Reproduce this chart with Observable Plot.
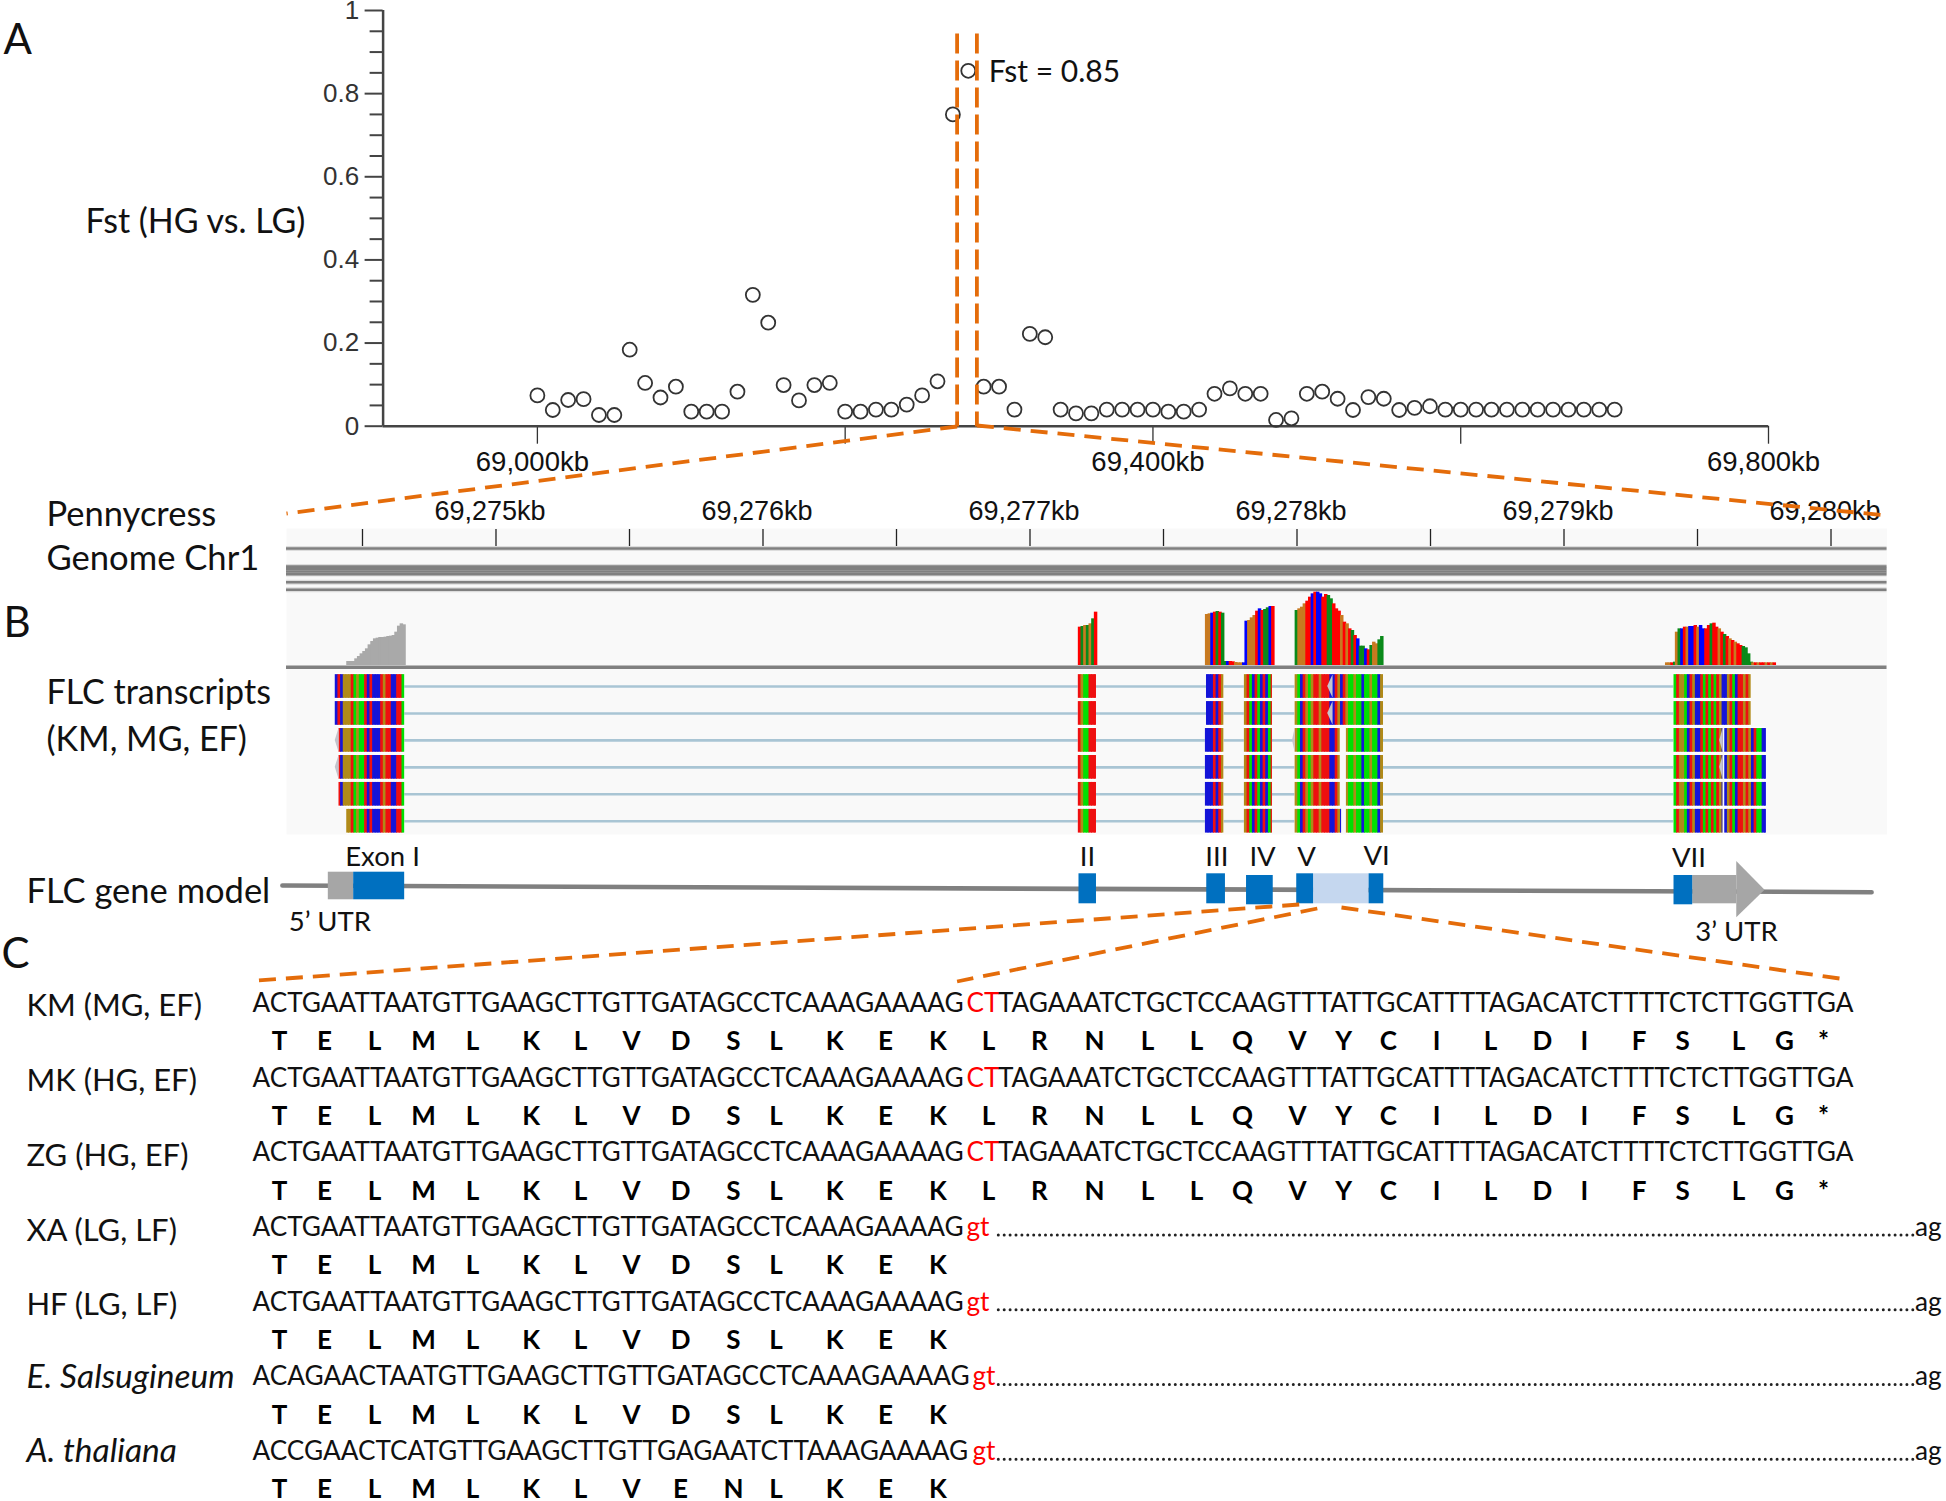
<!DOCTYPE html>
<html><head><meta charset="utf-8">
<script src="https://cdn.jsdelivr.net/npm/d3@7"></script>
<script src="https://cdn.jsdelivr.net/npm/@observablehq/plot@0.6"></script>
<style>html,body{margin:0;background:#fff}#fig{position:relative;width:1946px;height:1501px;overflow:hidden}</style>
</head><body><div id="fig"></div><script>
// ---------- Panel A ----------
const fstValues=[.074,.039,.063,.065,.027,.027,.184,.104,.069,.095,.035,.035,.035,.083,.316,.249,.099,.062,.099,.104,.035,.035,.04,.04,.052,.074,.108,.75,.855,
.095,.095,.04,.222,.214,.04,.031,.031,.04,.04,.04,.04,.035,.035,.04,.078,.091,.078,.078,.015,.019,.078,.083,.066,.039,.07,.066,.039,.044,.048,
.04,.04,.04,.04,.04,.04,.04,.04,.04,.04,.04,.04];
const fstWindowStart=69000, fstWindowStep=10;
const fstMajorY=[0,.2,.4,.6,.8,1];
const fstMinorY=[.05,.1,.15,.25,.3,.35,.45,.5,.55,.65,.7,.75,.85,.9,.95];
const fstTicksX=[69000,69200,69400,69600,69800];
const fstLabelledX=[69000,69400,69800];
// ---------- Panel B ----------
const rulerTicks=[69274.5,69275,69275.5,69276,69276.5,69277,69277.5,69278,69278.5,69279,69279.5,69280];
const rulerLabels=[69275,69276,69277,69278,69279,69280];
const exonStarts=[69274.398,69277.181,69277.657,69277.803,69277.993,69279.412];
const exonBases=["BRBOOORGOGGRBRBBBRORRBBRRG","ROGGRRR","BBBRBRO","ORGBRGBRBGR","OGBROGORRORRRBBROBROGGOGGBGGOGGBO","GROOGBROBBRGRGRGROBBORGBRROROBRGGBB"];
const blocksFull=[[69274.398,69274.658],[69277.181,69277.249],[69277.661,69277.726],[69277.803,69277.908],[69277.993,69278.324],[69279.412,69279.701]];
const blocksSplit=[[69274.412,69274.658],[69277.181,69277.249],[69277.657,69277.726],[69277.803,69277.908],[69277.993,69278.162],[69278.185,69278.324],[69279.412,69279.595],[69279.601,69279.758]];
const blocksLast=[[69274.441,69274.658],[69277.181,69277.249],[69277.657,69277.726],[69277.803,69277.908],[69277.993,69278.167],[69278.185,69278.324],[69279.412,69279.595],[69279.601,69279.758]];
const readRows=[blocksFull,blocksFull,blocksSplit,blocksSplit,blocksSplit,blocksLast];
const softClips=[{r:0,tip:69278.115,base:69278.135},{r:1,tip:69278.115,base:69278.135},{r:2,tip:69274.398,base:69274.412},{r:3,tip:69274.398,base:69274.412},{r:2,tip:69277.983,base:69277.993},{r:2,tip:69279.583,base:69279.596},{r:3,tip:69279.583,base:69279.596}];
const genomeLines=[-5.12,-4.45,-4.36,-4.27,-4.17,-3.87,-3.59];
const covTracks=[
 {start:69274.441,gray:true,bases:"",depth:[12,12,12,20,27,35,42,50,62,72,80,82,84,84,85,87,88,90,100,118,125,122]},
 {start:69277.181,bases:"RGOGOGR",depth:[115,117,120,120,125,140,160]},
 {start:69277.657,bases:"OOBRGRG",depth:[153,155,157,160,162,160,157]},
 {start:69277.726,bases:"GBRROOOB",depth:[12,12,12,11,9,8,8,8]},
 {start:69277.805,bases:"BOOORBRGGBR",depth:[133,135,143,150,163,170,165,168,173,177,177]},
 {start:69277.993,bases:"GOOORRBRBBRRGGRRRORORGRBGGBRGOOGG",depth:[165,170,175,185,193,205,215,220,220,215,205,213,210,200,185,170,163,150,130,125,110,105,90,80,58,58,50,47,60,70,65,77,87]},
 {start:69279.38,bases:"OORGRO",depth:[8,8,8,10,12,9]},
 {start:69279.417,bases:"OGBROBBROBBRRGRRORGRORORRGGGG",depth:[100,110,110,115,115,117,117,120,115,120,110,110,120,125,127,115,110,100,93,87,80,75,70,65,60,57,53,35,10]},
 {start:69279.703,bases:"ORORROROR",depth:[8,8,8,8,8,8,8,8,8]}
];
const geneBackboneX=[69274.2,69280.152], geneBackboneY=[0,.447];
const geneBoxes=[
 {s:69274.372,e:69274.467,t:-.887,b:.953,c:"#a6a6a6"},
 {s:69274.467,e:69274.658,t:-.887,b:.953,c:"#0070c0"},
 {s:69277.1835,e:69277.249,t:-.78,b:1.22,c:"#0070c0"},
 {s:69277.662,e:69277.732,t:-.78,b:1.22,c:"#0070c0"},
 {s:69277.811,e:69277.911,t:-.667,b:1.287,c:"#0070c0"},
 {s:69278.062,e:69278.27,t:-.78,b:1.22,c:"#c5d7ef"},
 {s:69277.999,e:69278.062,t:-.78,b:1.22,c:"#0070c0"},
 {s:69278.27,e:69278.325,t:-.78,b:1.22,c:"#0070c0"},
 {s:69279.482,e:69279.647,t:-.667,b:1.22,c:"#a6a6a6"},
 {s:69279.412,e:69279.482,t:-.667,b:1.287,c:"#0070c0"}
];
const arrowHead=[{x:69279.647,t:-1.6,b:2.153},{x:69279.753,t:.313,b:.313}];
const geneLabels=[
 {x:69274.575,y:-1.887,t:"Exon I"},{x:69277.215,y:-1.887,t:"II"},{x:69277.70,y:-1.887,t:"III"},
 {x:69277.871,y:-1.887,t:"IV"},{x:69278.036,y:-1.887,t:"V"},{x:69278.298,y:-1.93,t:"VI"},
 {x:69279.468,y:-1.82,t:"VII"},{x:69274.378,y:2.447,t:"5’ UTR"},{x:69279.646,y:3.113,t:"3’ UTR"}
];
// ---------- Panel C ----------
const seqNames=["KM (MG, EF)","MK (HG, EF)","ZG (HG, EF)","XA (LG, LF)","HF (LG, LF)","E. Salsugineum","A. thaliana"];
const seqPrefix=["ACTGAATTAATGTTGAAGCTTGTTGATAGCCTCAAAGAAAAG","ACTGAATTAATGTTGAAGCTTGTTGATAGCCTCAAAGAAAAG","ACTGAATTAATGTTGAAGCTTGTTGATAGCCTCAAAGAAAAG","ACTGAATTAATGTTGAAGCTTGTTGATAGCCTCAAAGAAAAG","ACTGAATTAATGTTGAAGCTTGTTGATAGCCTCAAAGAAAAG","ACAGAACTAATGTTGAAGCTTGTTGATAGCCTCAAAGAAAAG","ACCGAACTCATGTTGAAGCTTGTTGAGAATCTTAAAGAAAAG"];
const seqSplice=["CT","CT","CT","gt","gt","gt","gt"];
const seqSpliceCol=[42,42,42,42,42,42.35,42.35];
const seqTail="TAGAAATCTGCTCCAAGTTTATTGCATTTTAGACATCTTTTCTCTTGGTTGA";
const aminoLong="TELMLKLVDSLKEKLRNLLQVYCILDIFSLG*";
const aminoShort="TELMLKLVDSLKEK", aminoThaliana="TELMLKLVENLKEK";
const aminoCols=[1.59,4.24,7.18,10.06,12.94,16.39,19.29,22.29,25.18,28.29,30.79,34.24,37.24,40.32,43.29,46.29,49.53,52.65,55.53,58.24,61.47,64.18,66.82,69.65,72.82,75.88,78.35,81.56,84.12,87.41,90.12,92.41];
const aminoRows=[aminoLong,aminoLong,aminoLong,aminoShort,aminoShort,aminoShort,aminoThaliana];
// ---------- figure annotations ----------
const sideLabels=[
 {x:3,y:40,t:"A",s:42},{x:3,y:623,t:"B",s:42},{x:1,y:954,t:"C",s:42},
 {x:85,y:222,t:"Fst (HG vs. LG)",s:34},{x:46,y:514,t:"Pennycress",s:34.5},{x:46,y:558,t:"Genome Chr1",s:34.6},
 {x:46,y:693,t:"FLC transcripts",s:34},{x:46,y:740,t:"(KM, MG, EF)",s:34},{x:26,y:891,t:"FLC gene model",s:34.5}
];
const zoomVertical=[{a:[956.6,33],b:[956.6,426]},{a:[976.4,33],b:[976.4,426]}];
const zoomDiagonal=[
 {a:[956.6,426],b:[286,513]},{a:[976.4,425],b:[1886,515]},
 {a:[1298.7,904],b:[258,980]},{a:[1316.8,908],b:[956.6,981]},{a:[1341,907],b:[1839,978]}
];

const W=1946;
const SANS="Lato", ARIAL="Liberation Sans";
const fig=document.getElementById("fig");
function add(top,opts){
  const svg=Plot.plot({width:W,style:{position:"absolute",left:"0",top:top+"px",background:"transparent",overflow:"visible"},...opts});
  fig.appendChild(svg);return svg;
}
const baseColors={R:"#ee1010",G:"#00e000",B:"#1414d8",O:"#b08a18"};
const covColors={R:"#ff0000",G:"#0a8a1a",B:"#0000ff",O:"#c87a20"};
const kbFormat=d=>d3.format(",")(d)+"kb";

// Panel A
const fst=fstValues.map((v,i)=>({kb:fstWindowStart+i*fstWindowStep,v}));
const xStartA=69000-(537-382.6)/1.54;
add(0,{height:500,marginLeft:382.6,marginRight:178,marginTop:10,marginBottom:74.3,
 x:{domain:[xStartA,69800]},y:{domain:[0,1]},
 marks:[
  Plot.axisY({ticks:fstMajorY,tickSize:18,tickPadding:6,tickFormat:d=>String(d),fontSize:26,fontFamily:ARIAL,stroke:"#444",strokeWidth:2,color:"#333",label:null}),
  Plot.axisY({ticks:fstMinorY,tickSize:13,tickFormat:()=>"",stroke:"#444",strokeWidth:2,label:null}),
  Plot.axisX({ticks:fstTicksX,tickSize:18,tickFormat:()=>"",stroke:"#333",strokeWidth:1.3,label:null}),
  Plot.axisX({ticks:fstLabelledX,tickSize:0,tickPadding:25,dx:-5,tickFormat:kbFormat,fontSize:27.5,fontFamily:ARIAL,color:"#111",label:null}),
  Plot.ruleX([xStartA],{stroke:"#444",strokeWidth:2.5}),
  Plot.ruleY([0],{stroke:"#444",strokeWidth:2.5}),
  Plot.dot(fst,{x:"kb",y:"v",r:7,fill:"none",stroke:"#333",strokeWidth:1.8}),
  Plot.text(["Fst = 0.85"],{x:69293.3,y:.8516,text:d=>d,textAnchor:"start",fontSize:30,fontFamily:SANS,fill:"#111"})
 ]});

const genomicX={domain:[69274.2154,69280.2097],axis:null};
const mx={marginLeft:286,marginRight:59.5};

// Tracks background, genome lines, reads
const blocks=readRows.flatMap((row,r)=>row.map(([s,e])=>({r,s,e})));
const junctions=readRows.flatMap((row,r)=>row.slice(1).map((b,i)=>({r,s:row[i][1],e:b[0]})).filter(d=>d.e-d.s>.05));
const stripes=blocks.flatMap(b=>{
  const ex=d3.bisectRight(exonStarts,b.s+1e-6)-1, seq=exonBases[ex], out=[];
  for(let i=0;i<seq.length;i++){
    const s=exonStarts[ex]+i*.01, e=s+.01;
    if(e<=b.s+.002||s>=b.e-.002) continue;
    out.push({r:b.r,s:Math.max(s,b.s),e:Math.min(e+.003,b.e),c:baseColors[seq[i]]});
  }
  return out;
});
const clipArea=softClips.flatMap((c,id)=>[{id,x:c.tip,t:c.r,b:c.r},{id,x:c.base,t:c.r-.44,b:c.r+.44}]);
add(528,{height:306,...mx,marginTop:0,marginBottom:0,x:genomicX,y:{domain:[5.492,-5.863],axis:null},
 marks:[
  Plot.frame({fill:"#f9f9f9",stroke:null}),
  Plot.ruleY(genomeLines,{stroke:"#ddd",strokeWidth:5}),
  Plot.ruleY(genomeLines,{stroke:"#808080",strokeWidth:2.6}),
  Plot.ruleY(junctions,{y:"r",x1:"s",x2:"e",stroke:"#a9c5d4",strokeWidth:2.6}),
  Plot.rect(blocks,{x1:"s",x2:"e",y1:d=>d.r-.49,y2:d=>d.r+.49,fill:"#fff"}),
  Plot.rect(stripes,{x1:"s",x2:"e",y1:d=>d.r-.44,y2:d=>d.r+.44,fill:"c"}),
  Plot.areaY(clipArea,{x:"x",y1:"t",y2:"b",z:"id",fill:"#c4c4cc"})
 ]});

// Ruler
add(485,{height:60,...mx,marginTop:60,marginBottom:0,x:genomicX,y:{domain:[0,1],axis:null},
 marks:[
  Plot.axisX({anchor:"top",ticks:rulerTicks,tickSize:17,tickFormat:()=>"",stroke:"#222",strokeWidth:1.3,label:null}),
  Plot.axisX({anchor:"top",ticks:rulerLabels,tickSize:0,tickPadding:26,dx:-6,tickFormat:kbFormat,fontSize:27,fontFamily:ARIAL,color:"#111",label:null})
 ]});

// Coverage
const cov=covTracks.flatMap(t=>t.depth.map((d,i)=>({s:t.start+i*.01,e:t.start+(i+1)*.01+.003,d,c:t.gray?"#a9a9a9":covColors[t.bases[i]]})));
add(585,{height:80,...mx,marginTop:0,marginBottom:0,x:genomicX,y:{domain:[0,240],axis:null},
 marks:[
  Plot.rectY(cov,{x1:"s",x2:"e",y1:0,y2:"d",fill:"c"}),
  Plot.ruleY([0],{dy:1.7,stroke:"#808080",strokeWidth:3.4})
 ]});

// Gene model
add(840,{height:100,...mx,marginTop:0,marginBottom:0,x:genomicX,y:{domain:[3.667,-3],axis:null},
 marks:[
  Plot.line(geneBackboneX.map((x,i)=>({x,y:geneBackboneY[i]})),{x:"x",y:"y",stroke:"#808080",strokeWidth:4.6}),
  Plot.rect(geneBoxes,{x1:"s",x2:"e",y1:"t",y2:"b",fill:"c"}),
  Plot.areaY(arrowHead,{x:"x",y1:"t",y2:"b",fill:"#a6a6a6"}),
  Plot.text(geneLabels,{x:"x",y:"y",text:"t",fontSize:27.5,fontFamily:SANS,fill:"#111"})
 ]});

// Panel C
const rowsIdx=d3.range(seqNames.length);
const spliced=[3,4,5,6];
const amino=aminoRows.flatMap((s,r)=>Array.from(s,(ch,i)=>({r,ch,col:aminoCols[i]})));
const seqAttr={fontSize:26.2,fontFamily:SANS,textAnchor:"start"};
const nameAttr={x:-13.3,y:d=>d,dy:3,text:d=>seqNames[d],fontSize:31,fontFamily:SANS,textAnchor:"start",fill:"#111"};
add(960,{height:541,marginLeft:0,marginRight:0,marginTop:0,marginBottom:0,
 x:{domain:[-252/17,(W-252)/17],axis:null},y:{domain:[6.667,-.5756],axis:null},
 marks:[
  Plot.text(rowsIdx.filter(d=>d<5),nameAttr),
  Plot.text(rowsIdx.filter(d=>d>=5),{...nameAttr,dy:0,fontSize:33.5,fontStyle:"italic"}),
  Plot.text(rowsIdx,{x:0,y:d=>d,text:d=>seqPrefix[d],fill:"#111",...seqAttr}),
  Plot.text(rowsIdx,{x:d=>seqSpliceCol[d],y:d=>d,text:d=>seqSplice[d],fill:"#ff0000",...seqAttr}),
  Plot.text([0,1,2],{x:43.85,y:d=>d,text:()=>seqTail,fill:"#111",...seqAttr}),
  Plot.ruleY(spliced,{y:d=>d,dy:7.5,x1:43.9,x2:97.8,stroke:"#222",strokeWidth:3,strokeLinecap:"round",strokeDasharray:"0 5.9"}),
  Plot.text(spliced,{x:97.8,y:d=>d,text:()=>"ag",fill:"#111",...seqAttr}),
  Plot.text(amino,{x:"col",y:d=>d.r+.5,dy:1,text:"ch",fontWeight:"bold",fontSize:26,fontFamily:SANS,fill:"#000"})
 ]});

// Side labels and orange zoom guides
const guideAttr={x1:d=>d.a[0],y1:d=>d.a[1],x2:d=>d.b[0],y2:d=>d.b[1],stroke:"#e46c0a",strokeWidth:3.8};
add(0,{height:1501,marginLeft:0,marginRight:0,marginTop:0,marginBottom:0,
 x:{domain:[0,W],axis:null},y:{domain:[1501,0],axis:null},
 marks:[
  Plot.link(zoomVertical,{...guideAttr,strokeDasharray:"20 7"}),
  Plot.link(zoomDiagonal,{...guideAttr,strokeDasharray:"17 10"}),
  Plot.text(sideLabels,{x:"x",y:"y",text:"t",fontSize:"s",textAnchor:"start",fontFamily:SANS,fill:"#111"})
 ]});
</script></body></html>
